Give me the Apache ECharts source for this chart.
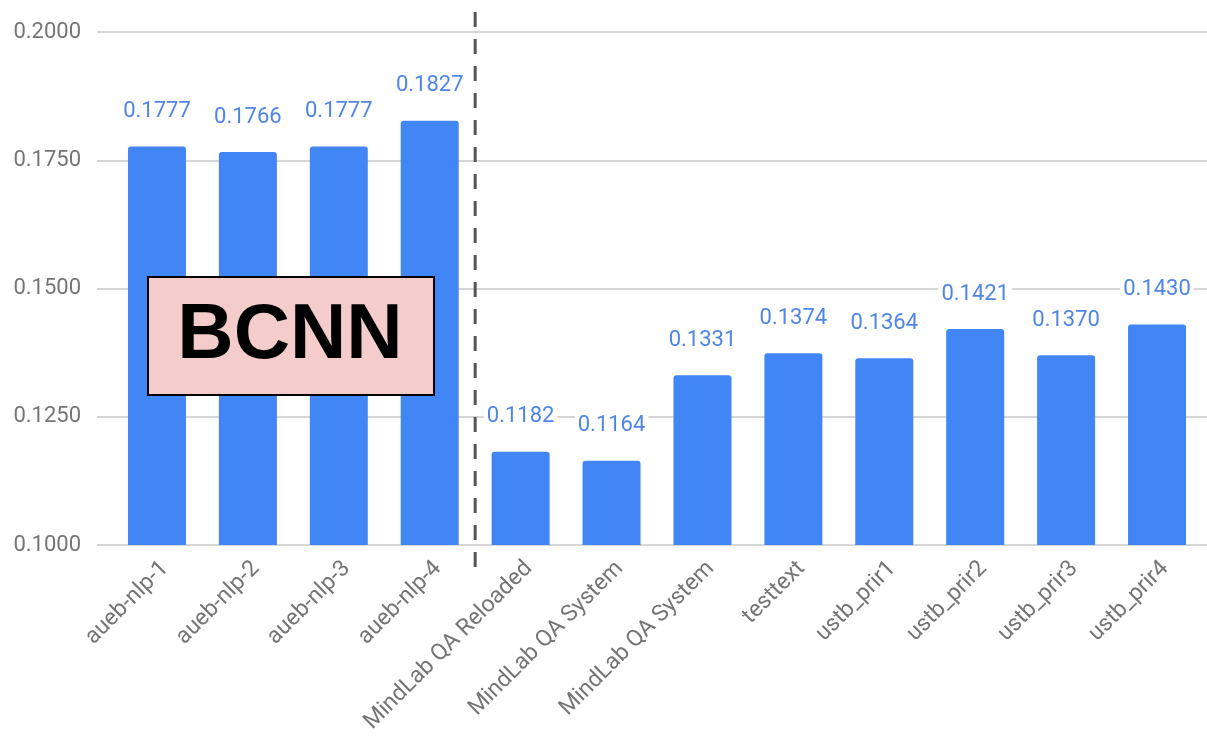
<!DOCTYPE html>
<html>
<head>
<meta charset="utf-8">
<script src="https://cdn.jsdelivr.net/npm/echarts@6/dist/echarts.min.js"></script>
<style>
html,body{margin:0;padding:0;background:#fff;}
#chart{width:1207px;height:738px;}
</style>
</head>
<body>
<div id="chart"></div>
<script>
const categories = ['aueb-nlp-1','aueb-nlp-2','aueb-nlp-3','aueb-nlp-4','MindLab QA Reloaded','MindLab QA System','MindLab QA System','testtext','ustb_prir1','ustb_prir2','ustb_prir3','ustb_prir4'];
const values = [0.1777,0.1766,0.1777,0.1827,0.1182,0.1164,0.1331,0.1374,0.1364,0.1421,0.1370,0.1430];
const yMin = 0.1, yMax = 0.2, yStep = 0.025;
const dividerAt = 3.5;
const dividerTop = 0.2039, dividerBottom = 0.0940;
const annotationText = 'BCNN';

const chart = echarts.init(document.getElementById('chart'), null, {renderer:'canvas'});
const labelFont = 'Roboto, "Noto Sans", sans-serif';
chart.setOption({
  animation: false,
  backgroundColor: '#fff',
  grid: [
    {left: 97, right: 0, top: 32, bottom: 193},
    {left: 111.5, right: 4.5, top: 32, bottom: 193}
  ],
  xAxis: [
    {type: 'value', gridIndex: 0, show: false, min: 0, max: 1},
    {type: 'category', gridIndex: 1, data: categories,
     axisLine: {show: false}, axisTick: {show: false},
     axisLabel: {rotate: 45, interval: 0, margin: 12, fontSize: 23, color: '#757575', fontFamily: labelFont, verticalAlign: 'top'}},
    {type: 'value', gridIndex: 1, show: false, min: -0.5, max: 11.5}
  ],
  yAxis: [
    {type: 'value', gridIndex: 0, min: yMin, max: yMax, interval: yStep,
     axisLine: {show: false}, axisTick: {show: false},
     axisLabel: {margin: 16, fontSize: 22, color: '#757575', fontFamily: labelFont, formatter: v => v.toFixed(4)},
     splitLine: {lineStyle: {color: '#d6d6d6', width: 2}}},
    {type: 'value', gridIndex: 1, min: yMin, max: yMax, interval: yStep, show: false, splitLine: {show: false}}
  ],
  series: [
    {type: 'bar', xAxisIndex: 1, yAxisIndex: 1, data: values, barWidth: 58,
     itemStyle: {color: '#4285f4', borderRadius: [3,3,0,0]},
     label: {show: true, position: 'top', distance: 24, fontSize: 22, color: '#4f86e6',
       fontFamily: labelFont, backgroundColor: '#fff', padding: [0,3,0,3],
       formatter: p => p.value.toFixed(4)}},
    {type: 'line', xAxisIndex: 2, yAxisIndex: 1, clip: false, silent: true,
     data: [[dividerAt, dividerTop], [dividerAt, dividerBottom]],
     symbol: 'none', z: 5,
     lineStyle: {color: '#555', width: 3, type: [15,12]}}
  ],
  graphic: [
    {type: 'rect', left: 147, top: 276, z: 100, shape: {width: 286, height: 118},
     style: {fill: '#f4cccc', stroke: '#000', lineWidth: 2}},
    {type: 'text', z: 101, x: 290, y: 336,
     style: {text: annotationText, fill: '#000', font: 'bold 78px "Liberation Sans", Arial, sans-serif',
       textAlign: 'center', textVerticalAlign: 'middle'}}
  ]
});
</script>
</body>
</html>
